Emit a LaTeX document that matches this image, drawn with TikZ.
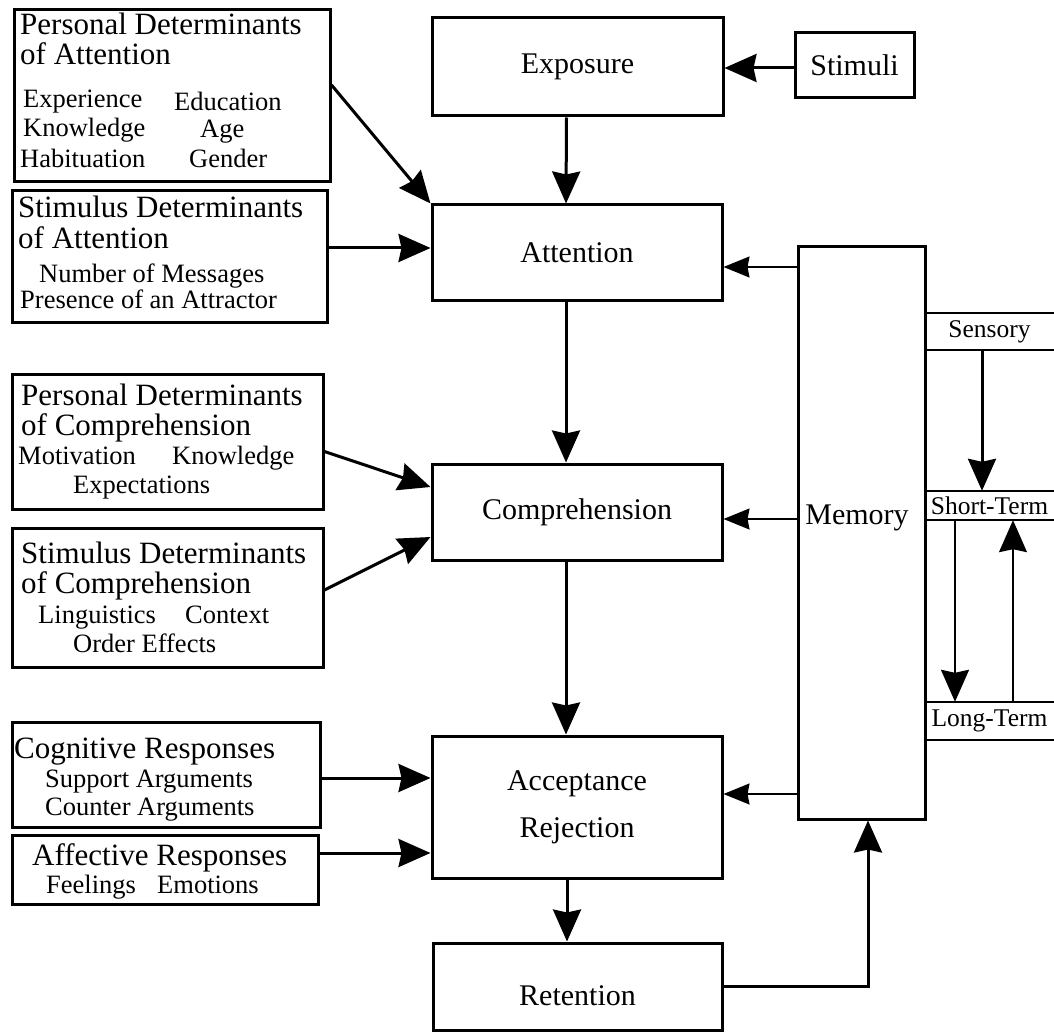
\documentclass[tikz,border=0pt]{standalone}
\usepackage{fontspec}
\setmainfont{Liberation Serif}
\usetikzlibrary{arrows.meta,calc}
\newcommand{\hdtxt}{\fontsize{31}{31}\selectfont}
\newcommand{\sbtxt}{\fontsize{26.5}{26.5}\selectfont}
\newcommand{\bxtxt}{\fontsize{30}{36}\selectfont}
\newcommand{\bdtxt}{\fontsize{25.5}{25.5}\selectfont}
\newcommand{\hdln}[3]{\node[hd] (#1) at (#2) {#3};}
\newcommand{\sbln}[3]{\node[sub] (#1) at (#2) {#3};}

\begin{document}
\begin{tikzpicture}[x=1pt,y=-1pt,>=Stealth,
  box/.style={draw,line width=3pt,inner sep=0pt,font=\bxtxt},
  band/.style={inner sep=0pt,minimum width=129pt,font=\bdtxt},
  bandline/.style={line width=2pt},
  hd/.style={anchor=base west,inner sep=0pt,font=\hdtxt},
  sub/.style={anchor=base west,inner sep=0pt,font=\sbtxt},
  conn/.style={line width=3pt,-{Stealth[length=32pt,width=28pt,inset=3pt]}},
  thin/.style={line width=1.5pt,-{Stealth[length=26pt,width=21pt,inset=2pt]}}]
\useasboundingbox (0,0) rectangle (1054,1032);

\node[box,minimum width=316pt,minimum height=172pt] (pda) at (172,96) {};
\node[box,minimum width=315pt,minimum height=131pt] (sda) at (169.5,256.5) {};
\node[box,minimum width=311pt,minimum height=135pt] (pdc) at (167.5,441.5) {};
\node[box,minimum width=311pt,minimum height=139pt] (sdc) at (167.5,597.5) {};
\node[box,minimum width=308pt,minimum height=105pt] (cog) at (166,774.5) {};
\node[box,minimum width=306pt,minimum height=69pt] (aff) at (165,869.5) {};
\node[box,minimum width=291pt,minimum height=98pt] (expo) at (577.5,67) {Exposure};
\node[box,minimum width=119pt,minimum height=65pt] (stim) at (854.5,65.5) {Stimuli};
\node[box,minimum width=290pt,minimum height=95pt] (att) at (577,252.5) {Attention};
\node[box,minimum width=290pt,minimum height=96pt] (comp) at (577,512) {Comprehension};
\node[box,minimum width=290pt,minimum height=142pt,align=center,
  font=\fontsize{30}{47}\selectfont] (acc) at (577,807) {Acceptance\\Rejection};
\node[box,minimum width=289pt,minimum height=87pt,text height=37pt,text depth=0pt]
  (ret) at (577.5,986.5) {Retention};
\node[box,minimum width=127pt,minimum height=572pt] (mem) at (861.5,533) {};
\node[font=\bxtxt,inner sep=0pt] (memlbl) at (857,518) {Memory};

\node[band,minimum height=37pt] (sens) at (989.5,331.5) {Sensory};
\node[band,minimum height=29pt] (short) at (989.5,505.5) {Short-Term};
\node[band,minimum height=38pt] (long) at (989.5,721) {Long-Term};
\foreach \b in {sens,short,long}
  \draw[bandline] (\b.north west) -- (\b.north east) (\b.south west) -- (\b.south east);

\hdln{pda1}{20,35}{Personal Determinants}
\hdln{pda2}{20,65}{of Attention}
\sbln{pda3}{23,108}{Experience}
\sbln{pda4}{174,111}{Education}
\sbln{pda5}{23,137}{Knowledge}
\sbln{pda6}{200,138}{Age}
\sbln{pda7}{20,168}{Habituation}
\sbln{pda8}{189,168}{Gender}

\hdln{sda1}{18,218}{Stimulus Determinants}
\hdln{sda2}{18,248}{of Attention}
\sbln{sda3}{39,282}{Number of Messages}
\sbln{sda4}{20,308}{Presence of an Attractor}

\hdln{pdc1}{21,405}{Personal Determinants}
\hdln{pdc2}{21,435}{of Comprehension}
\sbln{pdc3}{18,464}{Motivation}
\sbln{pdc4}{172,464}{Knowledge}
\sbln{pdc5}{73,493}{Expectations}

\hdln{sdc1}{21,563}{Stimulus Determinants}
\hdln{sdc2}{21,593}{of Comprehension}
\sbln{sdc3}{38,623}{Linguistics}
\sbln{sdc4}{185,623}{Context}
\sbln{sdc5}{73,652}{Order Effects}

\hdln{cog1}{14,758}{Cognitive Responses}
\sbln{cog2}{45,787}{Support Arguments}
\sbln{cog3}{45,815}{Counter Arguments}

\hdln{aff1}{32,865}{Affective Responses}
\sbln{aff2}{46,893}{Feelings}
\sbln{aff3}{157,893}{Emotions}

\draw[conn] ($(stim.west)+(0,2.5)$) -- ($(expo.east)+(0,1)$);
\draw[conn] ($(expo.south)+(-11,0)$) -- ($(att.north)+(-11,0)$);
\draw[conn] ($(att.south)+(-11,0)$) -- ($(comp.north)+(-11,0)$);
\draw[conn] ($(comp.south)+(-11,0)$) -- ($(acc.north)+(-11,0)$);
\draw[conn] ($(acc.south)+(-10,0)$) -- ($(ret.north)+(-10.5,0)$);
\draw[conn] ($(pda.east)+(0,-11)$) -- (att.north west);
\draw[conn] ($(sda.east)+(0,-8.5)$) -- ($(att.west)+(0,-4.5)$);
\draw[conn] ($(pdc.east)+(0,10)$) -- ($(comp.west)+(0,-25)$);
\draw[conn] ($(sdc.east)+(0,-7.5)$) -- ($(comp.west)+(0,25)$);
\draw[conn] ($(cog.east)+(0,3.5)$) -- ($(acc.west)+(0,-29)$);
\draw[conn] ($(aff.east)+(0,-16.5)$) -- ($(acc.west)+(0,46)$);
\draw[thin] ($(mem.west|-att.east)+(0,14.5)$) -- ($(att.east)+(0,14.5)$);
\draw[thin] ($(mem.west|-comp.east)+(0,7)$) -- ($(comp.east)+(0,7)$);
\draw[thin] ($(mem.west|-acc.east)+(0,-13)$) -- ($(acc.east)+(0,-13)$);
\draw[conn] ($(ret.east)+(0,-0.5)$) -| ($(mem.south)+(6.5,0)$);
\draw[conn] ($(sens.south)+(-7.5,0)$) -- ($(short.north)+(-7.5,0)$);
\draw[conn,line width=2pt] ($(short.south)+(-34.5,0)$) -- ($(long.north)+(-34.5,0)$);
\draw[conn,line width=1.3pt] ($(long.north)+(23.5,0)$) -- ($(short.south)+(23.5,0)$);
\end{tikzpicture}
\end{document}
